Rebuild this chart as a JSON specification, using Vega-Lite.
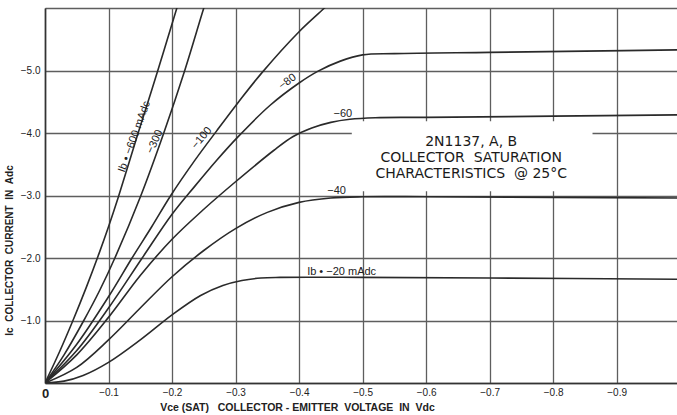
{
  "$schema": "https://vega.github.io/schema/vega-lite/v6.json",
  "width": 632,
  "height": 375,
  "autosize": {"type": "none"},
  "padding": {"left": 45, "top": 8, "right": 0, "bottom": 32},
  "background": "white",
  "config": {"view": {"stroke": null}, "font": "Liberation Sans"},
  "datasets": {
    "curves": [
      {"ib": "-600", "vce": 0, "ic": 0}, {"ib": "-600", "vce": -0.022, "ic": -0.48}, {"ib": "-600", "vce": -0.044, "ic": -1.0}, {"ib": "-600", "vce": -0.065, "ic": -1.53}, {"ib": "-600", "vce": -0.085, "ic": -2.07}, {"ib": "-600", "vce": -0.1, "ic": -2.5}, {"ib": "-600", "vce": -0.115, "ic": -2.96}, {"ib": "-600", "vce": -0.146, "ic": -3.98}, {"ib": "-600", "vce": -0.177, "ic": -4.98}, {"ib": "-600", "vce": -0.207, "ic": -5.98}, {"ib": "-600", "vce": -0.215, "ic": -6.25},
      {"ib": "-300", "vce": 0, "ic": 0}, {"ib": "-300", "vce": -0.03, "ic": -0.45}, {"ib": "-300", "vce": -0.06, "ic": -0.98}, {"ib": "-300", "vce": -0.086, "ic": -1.48}, {"ib": "-300", "vce": -0.11, "ic": -2.0}, {"ib": "-300", "vce": -0.151, "ic": -3.0}, {"ib": "-300", "vce": -0.187, "ic": -4.0}, {"ib": "-300", "vce": -0.22, "ic": -5.0}, {"ib": "-300", "vce": -0.25, "ic": -6.0}, {"ib": "-300", "vce": -0.258, "ic": -6.25},
      {"ib": "-100", "vce": 0, "ic": 0}, {"ib": "-100", "vce": -0.05, "ic": -0.62}, {"ib": "-100", "vce": -0.1, "ic": -1.38}, {"ib": "-100", "vce": -0.137, "ic": -2.0}, {"ib": "-100", "vce": -0.168, "ic": -2.5}, {"ib": "-100", "vce": -0.198, "ic": -3.0}, {"ib": "-100", "vce": -0.235, "ic": -3.55}, {"ib": "-100", "vce": -0.27, "ic": -4.03}, {"ib": "-100", "vce": -0.305, "ic": -4.5}, {"ib": "-100", "vce": -0.342, "ic": -4.97}, {"ib": "-100", "vce": -0.4, "ic": -5.62}, {"ib": "-100", "vce": -0.44, "ic": -6.0}, {"ib": "-100", "vce": -0.455, "ic": -6.15},
      {"ib": "-80", "vce": 0, "ic": 0}, {"ib": "-80", "vce": -0.05, "ic": -0.52}, {"ib": "-80", "vce": -0.1, "ic": -1.2}, {"ib": "-80", "vce": -0.153, "ic": -2.0}, {"ib": "-80", "vce": -0.2, "ic": -2.7}, {"ib": "-80", "vce": -0.236, "ic": -3.15}, {"ib": "-80", "vce": -0.27, "ic": -3.56}, {"ib": "-80", "vce": -0.303, "ic": -3.93}, {"ib": "-80", "vce": -0.354, "ic": -4.44}, {"ib": "-80", "vce": -0.4, "ic": -4.8}, {"ib": "-80", "vce": -0.43, "ic": -4.99}, {"ib": "-80", "vce": -0.465, "ic": -5.15}, {"ib": "-80", "vce": -0.5, "ic": -5.25}, {"ib": "-80", "vce": -0.55, "ic": -5.27}, {"ib": "-80", "vce": -0.7, "ic": -5.29}, {"ib": "-80", "vce": -0.85, "ic": -5.31}, {"ib": "-80", "vce": -1.0, "ic": -5.33},
      {"ib": "-60", "vce": 0, "ic": 0}, {"ib": "-60", "vce": -0.05, "ic": -0.45}, {"ib": "-60", "vce": -0.1, "ic": -1.05}, {"ib": "-60", "vce": -0.15, "ic": -1.72}, {"ib": "-60", "vce": -0.2, "ic": -2.3}, {"ib": "-60", "vce": -0.25, "ic": -2.78}, {"ib": "-60", "vce": -0.3, "ic": -3.22}, {"ib": "-60", "vce": -0.36, "ic": -3.72}, {"ib": "-60", "vce": -0.39, "ic": -3.94}, {"ib": "-60", "vce": -0.42, "ic": -4.08}, {"ib": "-60", "vce": -0.45, "ic": -4.17}, {"ib": "-60", "vce": -0.48, "ic": -4.22}, {"ib": "-60", "vce": -0.52, "ic": -4.245}, {"ib": "-60", "vce": -0.6, "ic": -4.25}, {"ib": "-60", "vce": -0.8, "ic": -4.27}, {"ib": "-60", "vce": -1.0, "ic": -4.29},
      {"ib": "-40", "vce": 0, "ic": 0}, {"ib": "-40", "vce": -0.05, "ic": -0.25}, {"ib": "-40", "vce": -0.1, "ic": -0.69}, {"ib": "-40", "vce": -0.15, "ic": -1.2}, {"ib": "-40", "vce": -0.2, "ic": -1.7}, {"ib": "-40", "vce": -0.25, "ic": -2.12}, {"ib": "-40", "vce": -0.3, "ic": -2.47}, {"ib": "-40", "vce": -0.35, "ic": -2.73}, {"ib": "-40", "vce": -0.4, "ic": -2.89}, {"ib": "-40", "vce": -0.45, "ic": -2.96}, {"ib": "-40", "vce": -0.5, "ic": -2.98}, {"ib": "-40", "vce": -0.6, "ic": -2.98}, {"ib": "-40", "vce": -0.8, "ic": -2.97}, {"ib": "-40", "vce": -1.0, "ic": -2.96},
      {"ib": "-20", "vce": 0, "ic": 0}, {"ib": "-20", "vce": -0.03, "ic": -0.03}, {"ib": "-20", "vce": -0.06, "ic": -0.12}, {"ib": "-20", "vce": -0.1, "ic": -0.33}, {"ib": "-20", "vce": -0.15, "ic": -0.69}, {"ib": "-20", "vce": -0.2, "ic": -1.09}, {"ib": "-20", "vce": -0.245, "ic": -1.4}, {"ib": "-20", "vce": -0.28, "ic": -1.56}, {"ib": "-20", "vce": -0.31, "ic": -1.64}, {"ib": "-20", "vce": -0.34, "ic": -1.68}, {"ib": "-20", "vce": -0.37, "ic": -1.69}, {"ib": "-20", "vce": -0.5, "ic": -1.69}, {"ib": "-20", "vce": -0.7, "ic": -1.68}, {"ib": "-20", "vce": -1.0, "ic": -1.66}
    ],
    "box": [{"vce": -0.483, "vce2": -0.862, "ic": -3.07, "ic2": -4.19}],
    "title": [{"vce": -0.671, "ic": -3.86, "label": "2N1137, A, B\nCOLLECTOR\u00a0 SATURATION\nCHARACTERISTICS\u00a0 @ 25°C"}],
    "flatLabels": [
      {"vce": -0.469, "ic": -4.3, "label": "−60"},
      {"vce": -0.459, "ic": -3.07, "label": "−40"},
      {"vce": -0.467, "ic": -1.78, "label": "Ib • −20 mAdc"}
    ],
    "lab600": [{"vce": -0.141, "ic": -3.94, "label": "Ib • −600 mAdc"}],
    "lab300": [{"vce": -0.173, "ic": -3.86, "label": "−300"}],
    "lab100": [{"vce": -0.247, "ic": -3.92, "label": "−100"}],
    "lab80": [{"vce": -0.382, "ic": -4.82, "label": "−80"}]
  },
  "layer": [
    {
      "data": {"name": "curves"},
      "mark": {"type": "line", "interpolate": "catmull-rom", "color": "#2a2a2a", "strokeWidth": 1.6, "clip": true},
      "encoding": {
        "x": {
          "field": "vce", "type": "quantitative",
          "scale": {"domain": [0, -0.995], "nice": false, "zero": false},
          "axis": {
            "values": [0, -0.1, -0.2, -0.3, -0.4, -0.5, -0.6, -0.7, -0.8, -0.9],
            "grid": true, "gridColor": "#5e5e5e", "gridWidth": 1.3,
            "domainColor": "#333333", "domainWidth": 1.6,
            "ticks": false, "labelPadding": 4, "labelFlush": false, "labelOverlap": false,
            "labelFontSize": {"condition": {"test": "datum.value == 0", "value": 13}, "value": 10},
            "labelFontWeight": {"condition": {"test": "datum.value == 0", "value": "bold"}, "value": "normal"},
            "labelColor": "#222222",
            "labelExpr": "datum.value == 0 ? '0' : format(datum.value, '.1f')",
            "title": "Vce (SAT)\u00a0\u00a0\u00a0COLLECTOR - EMITTER\u00a0\u00a0VOLTAGE\u00a0\u00a0IN\u00a0\u00a0Vdc",
            "titleFontSize": 10.5, "titleFontWeight": "bold", "titleColor": "#222222",
            "titleX": 252, "titleY": 24, "titleAlign": "center", "titleBaseline": "middle", "titleAnchor": null
          }
        },
        "y": {
          "field": "ic", "type": "quantitative",
          "scale": {"domain": [0, -6], "nice": false, "zero": false},
          "axis": {
            "values": [0, -1, -2, -3, -4, -5, -6],
            "grid": true, "gridColor": "#5e5e5e", "gridWidth": 1.3,
            "domainColor": "#333333", "domainWidth": 1.6,
            "ticks": false, "labelPadding": 5, "labelFontSize": 10, "labelColor": "#222222",
            "labelExpr": "datum.value == 0 || datum.value == -6 ? '' : format(datum.value, '.1f')",
            "title": "Ic\u00a0\u00a0COLLECTOR\u00a0\u00a0CURRENT\u00a0\u00a0IN\u00a0\u00a0Adc",
            "titleFontSize": 10, "titleFontWeight": "bold", "titleColor": "#222222",
            "titleX": -36, "titleY": 242, "titleAlign": "center", "titleBaseline": "middle", "titleAngle": -90, "titleAnchor": null
          }
        },
        "detail": {"field": "ib", "type": "nominal"},
        "order": {"field": "vce", "sort": "descending"}
      }
    },
    {
      "data": {"name": "box"},
      "mark": {"type": "rect", "color": "white"},
      "encoding": {
        "x": {"field": "vce", "type": "quantitative"},
        "x2": {"field": "vce2"},
        "y": {"field": "ic", "type": "quantitative"},
        "y2": {"field": "ic2"}
      }
    },
    {
      "data": {"name": "title"},
      "mark": {"type": "text", "font": "DejaVu Sans", "fontSize": 14, "lineHeight": 16, "lineBreak": "\n", "color": "#1a1a1a", "align": "center", "baseline": "middle"},
      "encoding": {
        "x": {"field": "vce", "type": "quantitative"},
        "y": {"field": "ic", "type": "quantitative"},
        "text": {"field": "label"}
      }
    },
    {
      "data": {"name": "flatLabels"},
      "mark": {"type": "text", "fontSize": 11, "color": "#222222", "align": "center", "baseline": "middle"},
      "encoding": {
        "x": {"field": "vce", "type": "quantitative"},
        "y": {"field": "ic", "type": "quantitative"},
        "text": {"field": "label"}
      }
    },
    {
      "data": {"name": "lab600"},
      "mark": {"type": "text", "fontSize": 11, "angle": -70, "color": "#222222", "align": "center", "baseline": "middle"},
      "encoding": {
        "x": {"field": "vce", "type": "quantitative"},
        "y": {"field": "ic", "type": "quantitative"},
        "text": {"field": "label"}
      }
    },
    {
      "data": {"name": "lab300"},
      "mark": {"type": "text", "fontSize": 11, "angle": -66, "color": "#222222", "align": "center", "baseline": "middle"},
      "encoding": {
        "x": {"field": "vce", "type": "quantitative"},
        "y": {"field": "ic", "type": "quantitative"},
        "text": {"field": "label"}
      }
    },
    {
      "data": {"name": "lab100"},
      "mark": {"type": "text", "fontSize": 11, "angle": -50, "color": "#222222", "align": "center", "baseline": "middle"},
      "encoding": {
        "x": {"field": "vce", "type": "quantitative"},
        "y": {"field": "ic", "type": "quantitative"},
        "text": {"field": "label"}
      }
    },
    {
      "data": {"name": "lab80"},
      "mark": {"type": "text", "fontSize": 11, "angle": -37, "color": "#222222", "align": "center", "baseline": "middle"},
      "encoding": {
        "x": {"field": "vce", "type": "quantitative"},
        "y": {"field": "ic", "type": "quantitative"},
        "text": {"field": "label"}
      }
    }
  ]
}
